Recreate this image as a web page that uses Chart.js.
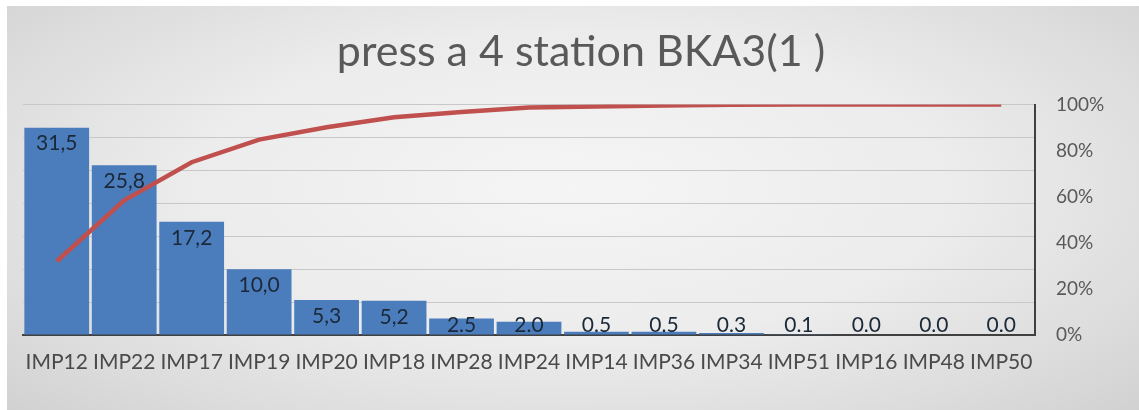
<!DOCTYPE html>
<html>
<head>
<meta charset="utf-8">
<script src="https://cdn.jsdelivr.net/npm/chart.js@4.4.1/dist/chart.umd.min.js"></script>
<style>
  html, body { margin: 0; padding: 0; background: #ffffff; }
  #frame {
    position: absolute; left: 7px; top: 6px; width: 1132px; height: 404px;
    background: radial-gradient(ellipse 75% 85% at 50% 45%, #f5f5f5 0%, #ececec 45%, #dcdcdc 75%, #cdcdcd 100%);
  }
  canvas { display: block; }
</style>
</head>
<body>
<div id="frame"><canvas id="pareto" width="1132" height="404"></canvas></div>
<script>
// Defects per station, sorted descending (Pareto)
const categories = ['IMP12', 'IMP22', 'IMP17', 'IMP19', 'IMP20', 'IMP18', 'IMP28', 'IMP24',
                    'IMP14', 'IMP36', 'IMP34', 'IMP51', 'IMP16', 'IMP48', 'IMP50'];
const shares = [31.5, 25.8, 17.2, 10.0, 5.3, 5.2, 2.5, 2.0, 0.5, 0.5, 0.3, 0.1, 0.0, 0.0, 0.0];
const shareLabels = ['31,5', '25,8', '17,2', '10,0', '5,3', '5,2', '2.5', '2.0',
                     '0.5', '0.5', '0.3', '0.1', '0.0', '0.0', '0.0'];
const cumulative = [32.0, 58.5, 75.0, 84.8, 90.2, 94.5, 96.8, 98.7, 99.2, 99.6, 99.9, 100, 100, 100, 100];
const chartTitle = 'press a 4 station BKA3(1 )';

const FONT = 'Lato, "Open Sans", sans-serif';

// Value labels inside the bar tops, kept above the baseline for short bars
const barValueLabels = {
  id: 'barValueLabels',
  afterDatasetsDraw(chart) {
    const meta = chart.getDatasetMeta(1);
    const base = chart.scales.y.getPixelForValue(0);
    const ctx = chart.ctx;
    ctx.save();
    ctx.font = '21px ' + FONT;
    ctx.fillStyle = '#1b2838';
    ctx.textAlign = 'center';
    ctx.textBaseline = 'middle';
    meta.data.forEach((bar, i) => {
      const y = Math.min(bar.y + 16, base - 10);
      ctx.fillText(shareLabels[i], bar.x, y);
    });
    ctx.restore();
  }
};

new Chart(document.getElementById('pareto'), {
  data: {
    labels: categories,
    datasets: [
      {
        type: 'line',
        data: cumulative,
        yAxisID: 'y1',
        borderColor: '#c0504d',
        borderWidth: 4.5,
        pointRadius: 0,
        tension: 0,
        order: 0
      },
      {
        type: 'bar',
        data: shares,
        yAxisID: 'y',
        backgroundColor: '#4b7dbd',
        categoryPercentage: 1,
        barPercentage: 0.96,
        order: 1
      }
    ]
  },
  options: {
    responsive: false,
    devicePixelRatio: 1,
    animation: false,
    layout: { padding: { left: 16, right: 0, top: 0, bottom: 0 } },
    plugins: {
      legend: { display: false },
      tooltip: { enabled: false },
      title: {
        display: true,
        text: chartTitle,
        color: '#595959',
        font: { family: FONT, size: 43, weight: 'normal' },
        padding: { top: 20, bottom: 27 }
      }
    },
    scales: {
      x: {
        grid: { display: false, drawTicks: false },
        border: { display: true, color: '#404040', width: 2 },
        ticks: {
          color: '#4a4a4a',
          font: { family: FONT, size: 21 },
          padding: 15,
          maxRotation: 0,
          autoSkip: false
        },
        afterFit(scale) { scale.height = 75; }
      },
      y: {
        position: 'left',
        min: 0,
        max: 35,
        ticks: { display: false, stepSize: 5 },
        grid: { color: '#c8c8c8', lineWidth: 1, drawTicks: false },
        border: { display: false },
        afterFit(scale) { scale.width = 0; }
      },
      y1: {
        position: 'right',
        min: 0,
        max: 100,
        ticks: {
          stepSize: 20,
          color: '#595959',
          font: { family: FONT, size: 19 },
          padding: 21,
          callback: v => v + '%'
        },
        grid: { drawOnChartArea: false, drawTicks: false },
        border: { display: true, color: '#404040', width: 2 },
        afterFit(scale) { scale.width = 104; }
      }
    }
  },
  plugins: [barValueLabels]
});
</script>
</body>
</html>
